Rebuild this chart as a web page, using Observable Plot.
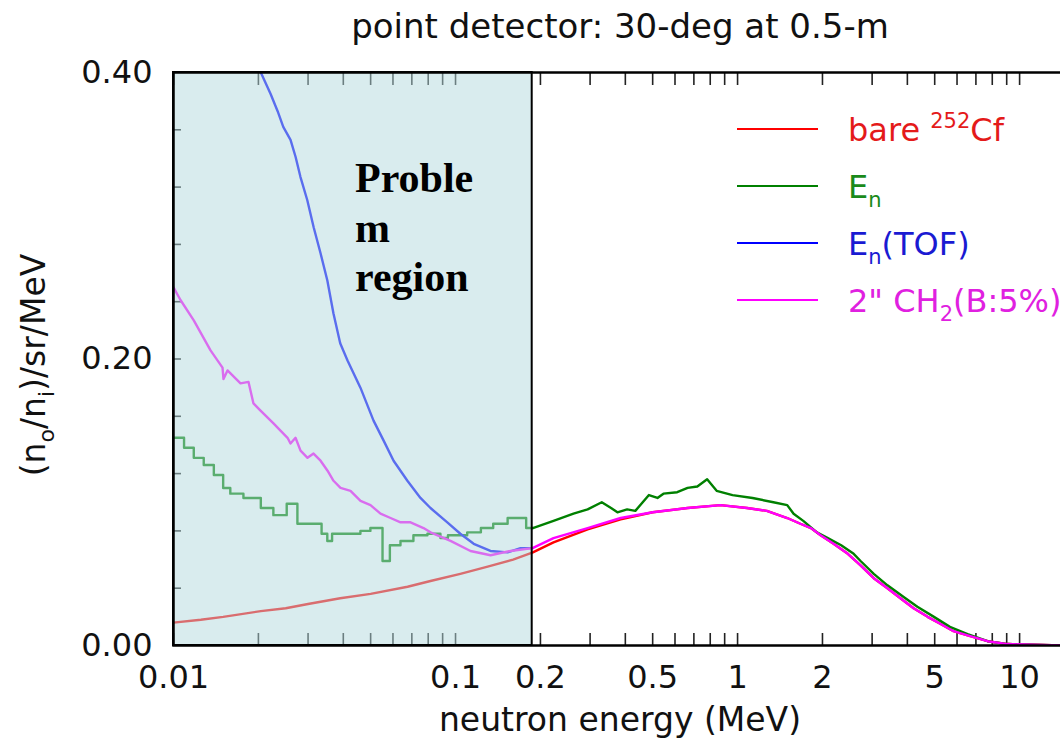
<!DOCTYPE html>
<html>
<head>
<meta charset="utf-8">
<script src="https://cdn.jsdelivr.net/npm/d3@7"></script>
<script src="https://cdn.jsdelivr.net/npm/@observablehq/plot@0.6"></script>
<style>
  html, body { margin: 0; padding: 0; background: #fff; overflow: hidden; }
  #wrap { position: relative; width: 1060px; height: 741px; overflow: hidden; font-family: "DejaVu Sans", sans-serif; }
  #overlay { position: absolute; left: 0; top: 0; pointer-events: none; }
</style>
</head>
<body>
<div id="wrap"></div>
<script>
// ---- data ----
const title = "point detector: 30-deg at 0.5-m";
const xLabel = "neutron energy (MeV)";
const xTickLabels = [0.01, 0.1, 0.2, 0.5, 1, 2, 5, 10];
const xMinorTicks = [0.01,0.02,0.03,0.04,0.05,0.06,0.07,0.08,0.09,0.1,0.2,0.3,0.4,0.5,0.6,0.7,0.8,0.9,1,2,3,4,5,6,7,8,9,10,20];
const yTickLabels = [0, 0.2, 0.4];
const yMinorTicks = [0.04,0.08,0.12,0.16,0.2,0.24,0.28,0.32,0.36];
const problemRegion = [{x1: 0.01, x2: 0.187, y1: 0, y2: 0.4}];
const annotationLines = ["Proble", "m", "region"];

// bare 252Cf
const redE = [0.01,0.0125,0.015,0.0204,0.025,0.03,0.039,0.05,0.0676,0.0815,0.104,0.13,0.16,0.188,0.2225,0.294,0.385,0.5,0.665,0.87,1.08,1.27,1.5,1.67,1.82,1.97,2.19,2.46,2.73,3.04,3.4,3.78,4.21,4.72,5.25,5.83,6.54,7.7,9.06,13,20];
const redV = [0.016,0.018,0.020,0.024,0.026,0.029,0.033,0.036,0.041,0.045,0.050,0.055,0.060,0.065,0.072,0.081,0.088,0.093,0.096,0.098,0.096,0.094,0.089,0.085,0.082,0.077,0.071,0.064,0.056,0.047,0.040,0.033,0.026,0.020,0.015,0.010,0.007,0.003,0.001,0.0002,0];

// E_n
const greenE = [0.0100,0.0109,0.0118,0.0128,0.0139,0.0150,0.0159,0.0177,0.0204,0.0226,0.0252,0.0275,0.0335,0.0351,0.0365,0.0460,0.0499,0.0551,0.0585,0.0638,0.0709,0.0795,0.0884,0.0940,0.110,0.123,0.136,0.153,0.178,0.188,0.2225,0.262,0.294,0.330,0.356,0.375,0.406,0.434,0.485,0.520,0.546,0.611,0.665,0.720,0.780,0.843,0.96,1.13,1.34,1.50,1.58,1.71,1.91,2.09,2.33,2.58,2.73,3.04,3.40,3.87,4.34,4.97,5.66,6.54,7.70,9.06,13,20];
const greenV = [0.145,0.138,0.131,0.126,0.119,0.110,0.106,0.103,0.096,0.091,0.099,0.085,0.078,0.073,0.078,0.080,0.082,0.059,0.070,0.073,0.077,0.078,0.075,0.077,0.079,0.082,0.085,0.089,0.082,0.082,0.087,0.092,0.095,0.100,0.096,0.093,0.095,0.094,0.105,0.103,0.106,0.107,0.110,0.111,0.116,0.108,0.105,0.103,0.100,0.098,0.092,0.087,0.079,0.075,0.070,0.064,0.059,0.050,0.042,0.034,0.027,0.020,0.013,0.008,0.003,0.001,0.0002,0];

// E_n(TOF)
const blueE = [0.0204,0.0221,0.0234,0.0245,0.0260,0.0271,0.0282,0.0298,0.0314,0.0332,0.0351,0.0369,0.0390,0.0414,0.0460,0.0512,0.0556,0.0603,0.0675,0.0751,0.0815,0.0935,0.104,0.116,0.133,0.153,0.170,0.188];
const blueV = [0.400,0.385,0.373,0.362,0.353,0.341,0.327,0.311,0.292,0.274,0.255,0.232,0.211,0.199,0.180,0.157,0.143,0.129,0.115,0.103,0.096,0.086,0.078,0.071,0.066,0.065,0.068,0.068];

// 2" CH2(B:5%)
const magE = [0.0100,0.0106,0.0118,0.01353,0.01492,0.01504,0.01554,0.01728,0.01845,0.01921,0.02035,0.02262,0.02395,0.02537,0.02599,0.02708,0.02821,0.02987,0.03137,0.03322,0.03517,0.03693,0.0391,0.04243,0.04604,0.04995,0.0542,0.05883,0.06383,0.06925,0.07699,0.08152,0.096,0.113,0.1331,0.1567,0.1875,0.2225,0.294,0.385,0.5,0.665,0.87,1.08,1.27,1.5,1.67,1.82,1.97,2.19,2.46,2.73,3.04,3.4,3.78,4.21,4.72,5.25,5.83,6.54,7.7,9.06,13,20];
const magV = [0.250,0.241,0.227,0.206,0.194,0.186,0.192,0.183,0.184,0.169,0.164,0.155,0.150,0.145,0.141,0.145,0.136,0.131,0.134,0.129,0.122,0.115,0.110,0.108,0.101,0.098,0.092,0.089,0.086,0.086,0.082,0.079,0.073,0.066,0.063,0.066,0.068,0.075,0.082,0.089,0.093,0.096,0.098,0.096,0.094,0.089,0.085,0.082,0.077,0.071,0.064,0.056,0.047,0.040,0.033,0.026,0.020,0.015,0.010,0.007,0.003,0.001,0.0002,0];

const seriesColors = {red: "#ff0000", green: "#008000", blue: "#0000ff", magenta: "#ff00ff"};

// ---- build ----
const toRows = (E, V) => E.map((e, i) => ({e, v: V[i]}));
const red = toRows(redE, redV);
const green = toRows(greenE, greenV);
const blue = toRows(blueE, blueV);
const mag = toRows(magE, magV);

const W = 1120, H = 741, mL = 173, mR = 16, mT = 72, mB = 96;
const plotW = W - mL - mR, plotH = H - mT - mB;
const lw = 2.4;

const chart = Plot.plot({
  width: W, height: H,
  marginLeft: mL, marginRight: mR, marginTop: mT, marginBottom: mB,
  style: {fontFamily: "DejaVu Sans, sans-serif", fontSize: "32px", background: "white", maxWidth: "none", overflow: "visible"},
  x: {type: "log", domain: [0.01, 20], axis: null},
  y: {domain: [0, 0.4], axis: null},
  marks: [
    // inward ticks
    Plot.tickX(xMinorTicks, {x: d => d, insetTop: plotH - 12, stroke: "#222", strokeWidth: 1.6}),
    Plot.tickX(xMinorTicks, {x: d => d, insetBottom: plotH - 13, stroke: "#222", strokeWidth: 1.6}),
    Plot.tickY(yMinorTicks, {y: d => d, insetRight: plotW - 8, stroke: "#222", strokeWidth: 1.6}),
    Plot.tickY(yMinorTicks, {y: d => d, insetLeft: plotW - 8, stroke: "#222", strokeWidth: 1.6}),
    // curves
    Plot.line(red, {x: "e", y: "v", stroke: seriesColors.red, strokeWidth: lw, clip: true}),
    Plot.line(green.filter(d => d.e <= 0.188), {x: "e", y: "v", stroke: seriesColors.green, strokeWidth: lw, curve: "step-after", clip: true}),
    Plot.line(green.filter(d => d.e >= 0.188), {x: "e", y: "v", stroke: seriesColors.green, strokeWidth: lw, clip: true}),
    Plot.line(blue, {x: "e", y: "v", stroke: seriesColors.blue, strokeWidth: lw, clip: true}),
    Plot.line(mag, {x: "e", y: "v", stroke: seriesColors.magenta, strokeWidth: lw, clip: true}),
    // problem region overlay
    Plot.rect(problemRegion, {x1: "x1", x2: "x2", y1: "y1", y2: "y2", fill: "#b4d9dd", fillOpacity: 0.5, stroke: "black", strokeWidth: 2}),
    Plot.frame({stroke: "black", strokeWidth: 2.5}),
    // tick labels
    Plot.text(xTickLabels, {x: d => d, frameAnchor: "bottom", lineAnchor: "top", dy: 20, text: d => String(d), fontSize: 32, fill: "#111"}),
    Plot.text(yTickLabels, {y: d => d, frameAnchor: "left", textAnchor: "end", dx: -21, text: d => d.toFixed(2), fontSize: 32, fill: "#111"})
  ]
});
chart.style.maxWidth = "none";
chart.style.height = H + "px";
chart.style.width = W + "px";
document.getElementById("wrap").appendChild(chart);

// ---- text overlay: title, axis titles, annotation, legend ----
const ov = d3.select("#wrap").append("svg").attr("id", "overlay")
  .attr("width", 1060).attr("height", 741)
  .style("font-family", "DejaVu Sans, sans-serif");

ov.append("text").attr("x", 620).attr("y", 38).attr("text-anchor", "middle")
  .attr("font-size", 34).attr("fill", "#111").text(title);

ov.append("text").attr("x", 620).attr("y", 731).attr("text-anchor", "middle")
  .attr("font-size", 33).attr("fill", "#111").text(xLabel);

const yl = ov.append("text").attr("transform", "translate(45,365) rotate(-90)")
  .attr("text-anchor", "middle").attr("font-size", 33).attr("fill", "#111");
yl.append("tspan").text("(n");
yl.append("tspan").attr("font-size", 22).attr("dy", 9).text("o");
yl.append("tspan").attr("dy", -9).text("/n");
yl.append("tspan").attr("font-size", 22).attr("dy", 9).text("i");
yl.append("tspan").attr("dy", -9).text(")/sr/MeV");

const ann = ov.append("text").attr("font-family", "Liberation Serif, Times New Roman, serif")
  .attr("font-weight", "bold").attr("font-size", 42).attr("fill", "#000");
const annY = [192, 242, 291];
annotationLines.forEach((t, i) => ann.append("tspan").attr("x", 355).attr("y", annY[i]).text(t));

// legend
const legendRows = [
  {color: seriesColors.red, textColor: "#e41a1a", parts: [["bare ", 0], ["252", 1], ["Cf", 0]]},
  {color: seriesColors.green, textColor: "#1a8a1a", parts: [["E", 0], ["n", -1]]},
  {color: seriesColors.blue, textColor: "#1a1ad2", parts: [["E", 0], ["n", -1], ["(TOF)", 0]]},
  {color: seriesColors.magenta, textColor: "#e020e0", parts: [["2\" CH", 0], ["2", -1], ["(B:5%)", 0]]}
];
const legY = [129, 186, 243, 300];
legendRows.forEach((r, i) => {
  const y = legY[i];
  ov.append("line").attr("x1", 737).attr("x2", 818).attr("y1", y).attr("y2", y)
    .attr("stroke", r.color).attr("stroke-width", 2);
  const t = ov.append("text").attr("x", 848).attr("y", y + 12).attr("font-size", 32).attr("fill", r.textColor);
  let cur = 0;
  r.parts.forEach(([s, k]) => {
    const shift = k === 1 ? -13 : k === -1 ? 9 : 0;
    t.append("tspan").attr("dy", shift - cur).attr("font-size", k === 0 ? 32 : 21).text(s);
    cur = shift;
  });
});
</script>
</body>
</html>
